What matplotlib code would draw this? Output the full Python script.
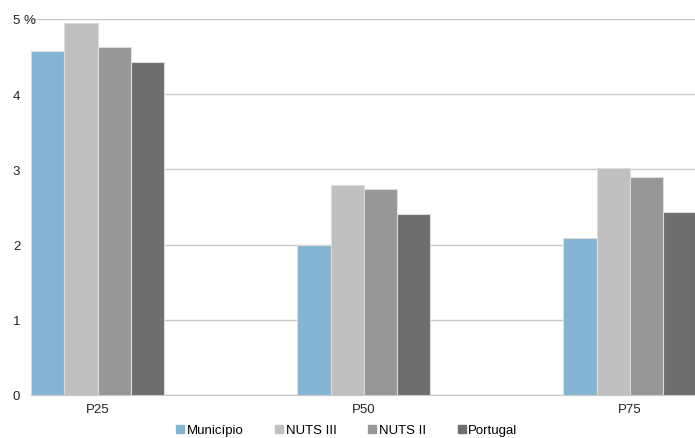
import numpy as np
import matplotlib
matplotlib.use("Agg")
import matplotlib.pyplot as plt
from matplotlib.lines import Line2D
from matplotlib.ticker import FuncFormatter

plt.rcParams['font.family'] = ['Liberation Sans', 'DejaVu Sans']

# data
categories = ['P25', 'P50', 'P75']
series_names = ['Município', 'NUTS III', 'NUTS II', 'Portugal']
municipio = [4.57, 1.99, 2.09]
nuts3 = [4.95, 2.79, 3.02]
nuts2 = [4.63, 2.74, 2.90]
portugal = [4.43, 2.41, 2.44]
yticks = [0, 1, 2, 3, 4, 5]

values = [municipio, nuts3, nuts2, portugal]
colors = ['#84b4d3', '#c0c0c0', '#979797', '#6e6e6e']

fig = plt.figure(figsize=(6.95, 4.39), dpi=100)
ax = fig.add_axes([31 / 695, 43 / 439, 1 - 31 / 695, 376 / 439])

x = np.arange(len(categories))
w = 0.125
for i, (vals, col) in enumerate(zip(values, colors)):
    ax.bar(x + (i - 1.5) * w, vals, w, color=col, edgecolor='#dcdcdc',
           linewidth=0.8, zorder=3)

ax.set_xlim(-0.25, 2.244)
ax.set_ylim(0, 5)
ax.set_yticks(yticks)
ax.yaxis.set_major_formatter(FuncFormatter(lambda v, p: '5 %' if v == 5 else '%d' % v))
ax.set_xticks(x)
ax.set_xticklabels(categories)
ax.grid(axis='y', color='#c8c8c8', linewidth=1, zorder=0)
for s in ['top', 'right', 'left']:
    ax.spines[s].set_visible(False)
ax.spines['bottom'].set_color('#c8c8c8')
ax.tick_params(axis='both', length=0, labelsize=9.5, colors='#222222')
ax.tick_params(axis='y', pad=13)
ax.tick_params(axis='x', pad=6)
for lab in ax.get_yticklabels():
    lab.set_horizontalalignment('left')

# legend sits at the very bottom edge, as in the reference
handles = [Line2D([], [], marker='s', linestyle='none', markersize=6,
                  markerfacecolor=c, markeredgecolor=c) for c in colors]
fig.legend(handles, series_names, loc='center', bbox_to_anchor=(0.498, 8 / 439),
           ncol=4, frameon=False, fontsize=9.5, handletextpad=0.1,
           columnspacing=2.3, handlelength=0.8)

fig.savefig('out.png', dpi=100)
